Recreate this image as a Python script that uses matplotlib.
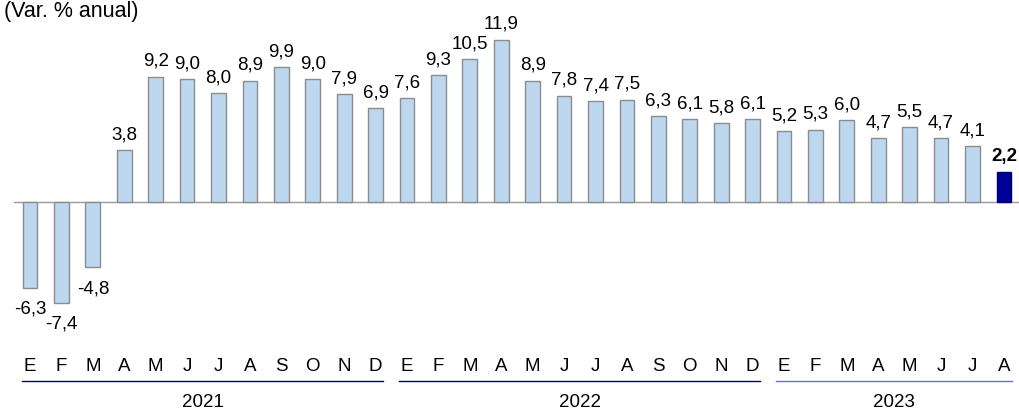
import numpy as np
import matplotlib.pyplot as plt
from matplotlib.transforms import blended_transform_factory

plt.rcParams['font.family'] = ['Liberation Sans', 'DejaVu Sans']

months = ['E', 'F', 'M', 'A', 'M', 'J', 'J', 'A', 'S', 'O', 'N', 'D',
          'E', 'F', 'M', 'A', 'M', 'J', 'J', 'A', 'S', 'O', 'N', 'D',
          'E', 'F', 'M', 'A', 'M', 'J', 'J', 'A']
values = [-6.3, -7.4, -4.8, 3.8, 9.2, 9.0, 8.0, 8.9, 9.9, 9.0, 7.9, 6.9,
          7.6, 9.3, 10.5, 11.9, 8.9, 7.8, 7.4, 7.5, 6.3, 6.1, 5.8, 6.1,
          5.2, 5.3, 6.0, 4.7, 5.5, 4.7, 4.1, 2.2]
years = ['2021', '2022', '2023']
year_counts = [12, 12, 8]

fs = 13.5
x = np.arange(len(values))
colors = ['#bdd7ee'] * len(values)
colors[-1] = '#000099'
edges = ['#8c8c8c'] * len(values)
edges[-1] = '#000066'

fig = plt.figure(figsize=(10.19, 4.09), dpi=100)
ax = fig.add_axes([0, 0, 1, 1])
ax.axis('off')
ax.set_xlim(-0.955, 31.48)
ax.set_ylim(-15.19, 14.82)

ax.axhline(0, xmin=0.014, xmax=1, color='#9a9a9a', lw=1, zorder=1)
ax.bar(x, values, width=0.47, color=colors, edgecolor=edges, linewidth=1, zorder=2)

for i, v in enumerate(values):
    lab = f'{v:.1f}'.replace('.', ',')
    bold = i == len(values) - 1
    if v >= 0:
        ax.text(i, v + 0.5, lab, ha='center', va='bottom', fontsize=fs,
                fontweight='bold' if bold else 'normal')
    else:
        ax.text(i, v - 0.95, lab, ha='center', va='top', fontsize=fs)

tr = blended_transform_factory(ax.transData, ax.transAxes)
for i, m in enumerate(months):
    ax.text(i, 0.105, m, transform=tr, ha='center', va='center', fontsize=fs)

line_colors = ['#000080', '#000080', '#7070cc']
start = 0
for yr, n, lc in zip(years, year_counts, line_colors):
    x0 = start - 0.25
    x1 = start + n - 1 + 0.25
    ax.plot([x0, x1], [0.068, 0.068], transform=tr, color=lc, lw=1, clip_on=False)
    ax.text((x0 + x1) / 2, 0.017, yr, transform=tr, ha='center', va='center', fontsize=fs)
    start += n

fig.text(0.004, 0.958, '(Var. % anual)', ha='left', va='baseline', fontsize=15.5)

fig.savefig('out.png', dpi=100)
